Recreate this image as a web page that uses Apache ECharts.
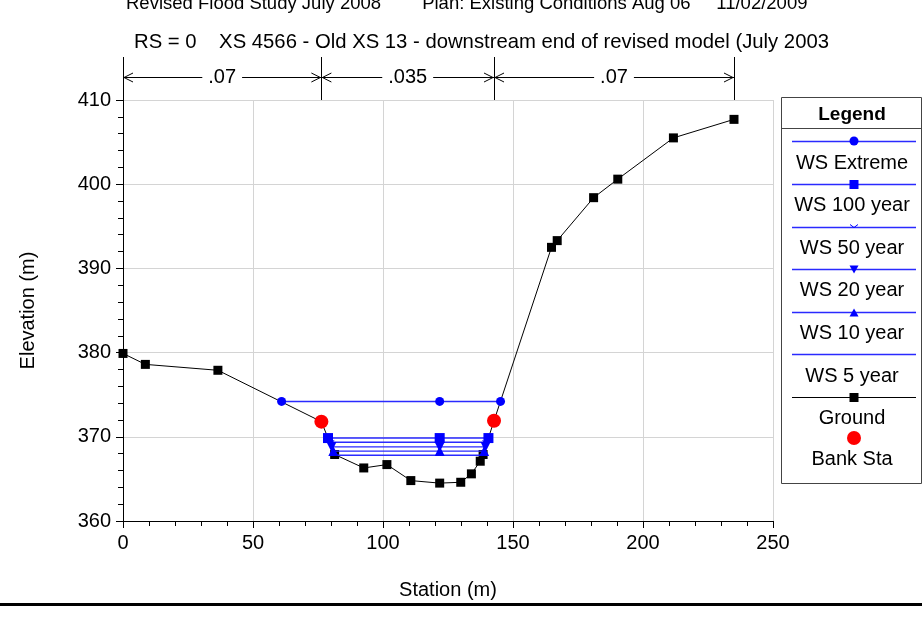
<!DOCTYPE html>
<html>
<head>
<meta charset="utf-8">
<script src="https://cdn.jsdelivr.net/npm/echarts@6/dist/echarts.min.js"></script>
<style>
  html, body { margin: 0; padding: 0; background: #fff; }
  #chart { width: 922px; height: 625px; }
</style>
</head>
<body>
<div id="chart"></div>
<script>
// Cross section XS 4566 — ground profile (station m, elevation m)
const groundStation = [0, 8.6, 36.5, 76.3, 81.4, 92.6, 101.5, 110.7, 121.8, 129.9, 134.0, 137.4, 138.5, 142.7, 164.8, 167.0, 181.0, 190.3, 211.7, 235.0];
const groundElev    = [379.9, 378.6, 377.9, 371.8, 367.9, 366.3, 366.7, 364.8, 364.5, 364.6, 365.6, 367.1, 367.9, 371.9, 392.5, 393.3, 398.4, 400.6, 405.5, 407.7];

// Water surface profiles
const wsNames    = ['WS Extreme', 'WS 100 year', 'WS 50 year', 'WS 20 year', 'WS 10 year', 'WS 5 year'];
const wsElev     = [374.2, 369.85, 369.35, 368.8, 368.3, 367.8];
const wsLeftSta  = [61.0, 78.85, 79.5, 80.2, 80.9, 81.5];
const wsRightSta = [145.2, 140.55, 140.0, 139.45, 138.9, 138.4];
const wsMidSta   = 121.8;

// Bank stations
const bankStation = [76.3, 142.7];
const bankElev    = [371.8, 371.9];

// Manning's n regions
const nBreaks = [0, 76.3, 142.7, 235.0];
const nValues = ['.07', '.035', '.07'];

// Axis ticks
const xTicks = { min: 0, max: 250, interval: 50 };
const yTicks = { min: 360, max: 410, interval: 10 };

const titleLine1 = 'Revised Flood Study July 2008        Plan: Existing Conditions Aug 06     11/02/2009';
const titleLine2 = 'RS = 0    XS 4566 - Old XS 13 - downstream end of revised model (July 2003';

const FONT = '"Liberation Sans", Arial, sans-serif';
const BLUE = '#0000ff';
const WSLINE = '#2a2aff';
const chevron = 'path://M0,0 L5,4 L10,0 L10,1.4 L5,5.4 L0,1.4 Z';
const wsSymbol = ['circle', 'rect', chevron, 'triangle', 'triangle', 'none'];
const wsSymbolRotate = [0, 0, 0, 180, 0, 0];
const wsSymbolSize = [9, 10, [9, 5], 10, 10, 0];

const series = [];
series.push({
  name: 'Ground', type: 'line', z: 3,
  data: groundStation.map((s, i) => [s, groundElev[i]]),
  lineStyle: { color: '#000', width: 1 },
  itemStyle: { color: '#000' },
  symbol: 'rect', symbolSize: 9, showSymbol: true, animation: false
});
wsNames.forEach((n, i) => {
  series.push({
    name: n, type: 'line', z: 4,
    data: [[wsLeftSta[i], wsElev[i]], [wsMidSta, wsElev[i]], [wsRightSta[i], wsElev[i]]],
    lineStyle: { color: WSLINE, width: 1.4 },
    itemStyle: { color: BLUE },
    symbol: wsSymbol[i], symbolSize: wsSymbolSize[i], symbolRotate: wsSymbolRotate[i],
    showSymbol: wsSymbol[i] !== 'none', animation: false
  });
});
series.push({
  name: 'Bank Sta', type: 'scatter', z: 5,
  data: bankStation.map((s, i) => [s, bankElev[i]]),
  itemStyle: { color: '#ff0000', opacity: 1 },
  symbol: 'circle', symbolSize: 14, animation: false
});

const axisCommon = {
  type: 'value',
  axisLine: { show: true, onZero: false, lineStyle: { color: '#000', width: 1 } },
  axisTick: { show: true, inside: false, length: 7, lineStyle: { color: '#000' } },
  minorTick: { show: true, splitNumber: 5, length: 5, lineStyle: { color: '#000' } },
  splitLine: { show: true, lineStyle: { color: '#d4d4d4', width: 1 } },
  axisLabel: { color: '#000', fontSize: 20, fontFamily: FONT },
  nameTextStyle: { color: '#000', fontSize: 20, fontFamily: FONT }
};

const option = {
  backgroundColor: '#fff',
  animation: false,
  grid: { left: 123, right: 149, top: 100, bottom: 104, containLabel: false },
  xAxis: Object.assign({}, axisCommon, {
    min: xTicks.min, max: xTicks.max, interval: xTicks.interval,
    name: 'Station (m)', nameLocation: 'middle', nameGap: 59,
    axisLabel: Object.assign({}, axisCommon.axisLabel, { margin: 12 })
  }),
  yAxis: Object.assign({}, axisCommon, {
    min: yTicks.min, max: yTicks.max, interval: yTicks.interval,
    name: 'Elevation (m)', nameLocation: 'middle', nameGap: 85, nameRotate: 90,
    axisLabel: Object.assign({}, axisCommon.axisLabel, { margin: 12 })
  }),
  series: series
};

const chart = echarts.init(document.getElementById('chart'), null, { renderer: 'canvas' });
chart.setOption(option);

// Overlay: titles, Manning's n regions, legend panel, bottom rule
const g = [];
const toPx = (s, e) => chart.convertToPixel({ gridIndex: 0 }, [s, e]);
const plotTop = toPx(0, yTicks.max)[1];

g.push({ type: 'text', left: 126, top: -6, style: { text: titleLine1, fontSize: 18.5, fontFamily: FONT, fill: '#000' } });
g.push({ type: 'text', left: 134, top: 32, style: { text: titleLine2, fontSize: 20.3, fontFamily: FONT, fill: '#000' } });

const arrowY = 77;
nBreaks.forEach(s => {
  const x = Math.round(toPx(s, yTicks.max)[0]) + 0.5;
  g.push({ type: 'line', shape: { x1: x, y1: 57, x2: x, y2: plotTop }, style: { stroke: '#000', lineWidth: 1 }, z: 10 });
});
nValues.forEach((v, i) => {
  const x0 = toPx(nBreaks[i], yTicks.max)[0];
  const x1 = toPx(nBreaks[i + 1], yTicks.max)[0];
  g.push({ type: 'line', shape: { x1: x0, y1: arrowY + 0.5, x2: x1, y2: arrowY + 0.5 }, style: { stroke: '#000', lineWidth: 1 }, z: 10 });
  g.push({ type: 'polyline', shape: { points: [[x0 + 10, arrowY - 4], [x0 + 1, arrowY + 0.5], [x0 + 10, arrowY + 5]] }, style: { stroke: '#000', lineWidth: 1, fill: null }, z: 10 });
  g.push({ type: 'polyline', shape: { points: [[x1 - 10, arrowY - 4], [x1 - 1, arrowY + 0.5], [x1 - 10, arrowY + 5]] }, style: { stroke: '#000', lineWidth: 1, fill: null }, z: 10 });
  g.push({ type: 'text', x: (x0 + x1) / 2, y: arrowY, z: 11,
    style: { text: v, fontSize: 20, fontFamily: FONT, fill: '#000', align: 'center', verticalAlign: 'middle',
             backgroundColor: '#fff', padding: [0, 6] } });
});

// Legend panel
const LX = 781, LY = 97, LW = 140, LH = 386, cx = 852;
g.push({ type: 'rect', shape: { x: LX + 0.5, y: LY + 0.5, width: LW, height: LH }, style: { fill: '#fff', stroke: '#444', lineWidth: 1 }, z: 20 });
g.push({ type: 'line', shape: { x1: LX, y1: 128.5, x2: LX + LW + 1, y2: 128.5 }, style: { stroke: '#444', lineWidth: 1 }, z: 21 });
g.push({ type: 'text', x: cx, y: 115, z: 21, style: { text: 'Legend', fontSize: 19, fontWeight: 'bold', fontFamily: FONT, fill: '#000', align: 'center', verticalAlign: 'middle' } });

const legendLineY = [141, 184, 227, 269, 312, 354, 397];
const legendLabelY = [163, 205, 248, 290, 333, 376, 418];
const legendNames = wsNames.concat(['Ground']);
legendNames.forEach((n, i) => {
  const y = legendLineY[i] + 0.5;
  const isGround = i === legendNames.length - 1;
  g.push({ type: 'line', shape: { x1: 792, y1: y, x2: 916, y2: y }, style: { stroke: isGround ? '#000' : WSLINE, lineWidth: isGround ? 1 : 1.4 }, z: 21 });
  const fill = isGround ? '#000' : BLUE;
  if (isGround || i === 1) {
    g.push({ type: 'rect', shape: { x: 854 - 4.5, y: y - 4.5, width: 9, height: 9 }, style: { fill: fill }, z: 22 });
  } else if (i === 0) {
    g.push({ type: 'circle', shape: { cx: 854, cy: y - 0.5, r: 4.5 }, style: { fill: fill }, z: 22 });
  } else if (i === 2) {
    g.push({ type: 'polyline', shape: { points: [[850, y - 3], [854, y], [858, y - 3]] }, style: { stroke: fill, lineWidth: 1, fill: null }, z: 22 });
  } else if (i === 3) {
    g.push({ type: 'polygon', shape: { points: [[849.5, y - 4], [858.5, y - 4], [854, y + 4]] }, style: { fill: fill }, z: 22 });
  } else if (i === 4) {
    g.push({ type: 'polygon', shape: { points: [[849.5, y + 4], [858.5, y + 4], [854, y - 4]] }, style: { fill: fill }, z: 22 });
  }
  g.push({ type: 'text', x: cx, y: legendLabelY[i], z: 21, style: { text: n, fontSize: 20, fontFamily: FONT, fill: '#000', align: 'center', verticalAlign: 'middle' } });
});
g.push({ type: 'circle', shape: { cx: 854, cy: 438, r: 7 }, style: { fill: '#ff0000' }, z: 22 });
g.push({ type: 'text', x: cx, y: 459, z: 21, style: { text: 'Bank Sta', fontSize: 20, fontFamily: FONT, fill: '#000', align: 'center', verticalAlign: 'middle' } });

// Bottom rule
g.push({ type: 'rect', shape: { x: 0, y: 603, width: 922, height: 3 }, style: { fill: '#000' }, z: 20 });

chart.setOption({ graphic: g });
</script>
</body>
</html>
